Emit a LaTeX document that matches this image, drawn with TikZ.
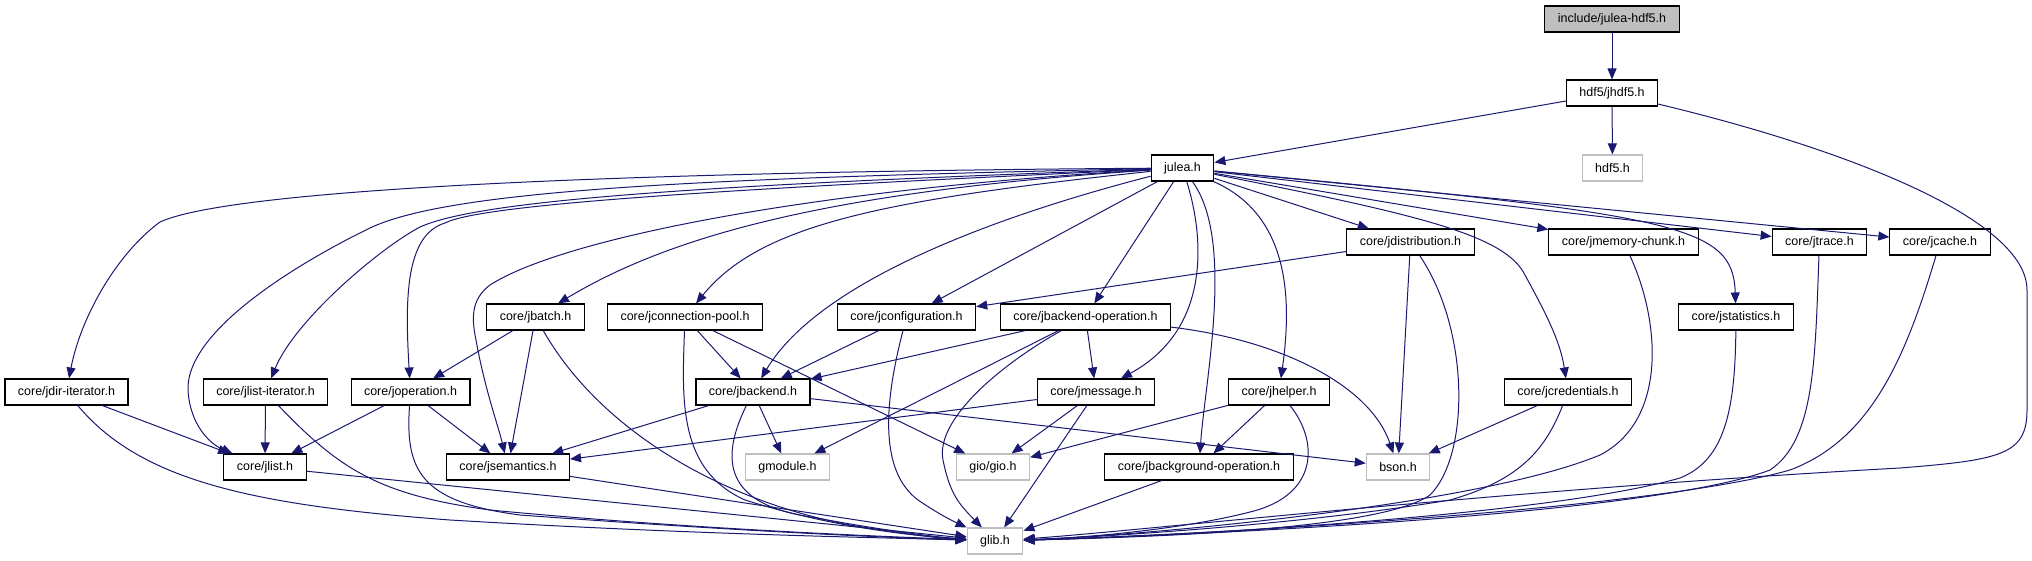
\documentclass[tikz,border=0pt]{standalone}
\usepackage{fontspec}
\setmainfont{Liberation Sans}
\usetikzlibrary{arrows.meta}
\definecolor{midblue}{RGB}{25,25,112}
\definecolor{boxgray}{RGB}{191,191,191}
\begin{document}
\begin{tikzpicture}[x=1pt, y=-1pt, every node/.style={font=\fontsize{12.47}{15}\selectfont},
  f/.style={draw, line width=1.1pt, fill=white, inner xsep=13pt, inner ysep=0pt, minimum height=26pt},
  ext/.style={f, draw=boxgray},
  dep/.style={draw=midblue, line width=1pt, -{Triangle[length=11pt,width=9pt]}}]
\useasboundingbox (0,0) rectangle (2032,560);
% top: file and hdf5 header
\node[f, fill=boxgray] (root) at (1612,19) {include/julea-hdf5.h};
\node[f] (jhdf5) at (1612,93) {hdf5/jhdf5.h};
\node[f] (julea) at (1182.5,168) {julea.h};
\node[ext] (hdf5) at (1612.5,168) {hdf5.h};
% level 3
\node[f] (jdistribution) at (1410.5,242) {core/jdistribution.h};
\node[f] (jmemchunk) at (1623.5,242) {core/jmemory-chunk.h};
\node[f] (jtrace) at (1819.5,242) {core/jtrace.h};
\node[f] (jcache) at (1940,242) {core/jcache.h};
% level 4
\node[f] (jbatch) at (535.5,317) {core/jbatch.h};
\node[f] (jconnpool) at (685,317) {core/jconnection-pool.h};
\node[f] (jconfig) at (906.5,317) {core/jconfiguration.h};
\node[f] (jbackendop) at (1085.5,317) {core/jbackend-operation.h};
\node[f] (jstatistics) at (1736,317) {core/jstatistics.h};
% level 5
\node[f] (jdiriter) at (66.5,392) {core/jdir-iterator.h};
\node[f] (jlistiter) at (265.5,392) {core/jlist-iterator.h};
\node[f] (joperation) at (410.5,392) {core/joperation.h};
\node[f] (jbackend) at (753,392) {core/jbackend.h};
\node[f] (jmessage) at (1096,392) {core/jmessage.h};
\node[f] (jhelper) at (1279,392) {core/jhelper.h};
\node[f] (jcredentials) at (1568,392) {core/jcredentials.h};
% level 6
\node[f] (jlist) at (265,467) {core/jlist.h};
\node[f] (jsemantics) at (508,467) {core/jsemantics.h};
\node[ext] (gmodule) at (787.5,467) {gmodule.h};
\node[ext] (gio) at (993,467) {gio/gio.h};
\node[f] (jbackgroundop) at (1199,467) {core/jbackground-operation.h};
\node[ext] (bson) at (1398,467) {bson.h};
% bottom
\node[ext] (glib) at (995,541) {glib.h};
% edges from the top
\draw[dep] (root)--(jhdf5); \draw[dep] (jhdf5)--(julea); \draw[dep] (jhdf5)--(hdf5);
\draw[dep] (jhdf5) .. controls (1850,150) and (2027,220) .. (2027,290) -- (2027,410) .. controls (2027,455) and (2000,460) .. (1900,468) .. controls (1500,490) and (1150,530) .. (glib);
% edges from julea.h, left side
\draw[dep] (julea) .. controls (600,172) and (230,190) .. (160,222) .. controls (115,255) and (80,320) .. (jdiriter);
\draw[dep] (julea) .. controls (700,178) and (450,190) .. (370,228) .. controls (300,262) and (186,330) .. (188,390) .. controls (190,425) and (210,444) .. (jlist);
\draw[dep] (julea) .. controls (700,185) and (480,200) .. (420,227) .. controls (380,248) and (295,320) .. (jlistiter);
\draw[dep] (julea) .. controls (700,190) and (480,205) .. (445,223) .. controls (405,235) and (405,300) .. (joperation);
\draw[dep] (julea) .. controls (800,190) and (560,240) .. (490,285) .. controls (470,300) and (472,320) .. (476,340) .. controls (485,390) and (498,425) .. (jsemantics);
\draw[dep] (julea) .. controls (850,190) and (680,230) .. (jbatch);
\draw[dep] (julea) .. controls (880,200) and (760,225) .. (jconnpool);
\draw[dep] (julea) .. controls (1000,215) and (820,280) .. (jbackend);
\draw[dep] (julea)--(jconfig); \draw[dep] (julea)--(jbackendop);
% edges from julea.h, right side
\draw[dep] (julea) .. controls (1205,240) and (1210,330) .. (jmessage);
\draw[dep] (julea) .. controls (1235,240) and (1205,380) .. (jbackgroundop);
\draw[dep] (julea) .. controls (1290,215) and (1292,300) .. (jhelper);
\draw[dep] (julea)--(jdistribution); \draw[dep] (julea)--(jmemchunk); \draw[dep] (julea)--(jtrace); \draw[dep] (julea)--(jcache);
\draw[dep] (julea) .. controls (1420,215) and (1505,235) .. (1525,275) .. controls (1545,312) and (1560,340) .. (jcredentials);
\draw[dep] (julea) .. controls (1680,215) and (1733,225) .. (jstatistics);
% level 3 edges
\draw[dep] (jdistribution)--(jconfig); \draw[dep] (jdistribution)--(bson);
\draw[dep] (jdistribution) .. controls (1470,330) and (1470,455) .. (1430,495) .. controls (1380,530) and (1150,537) .. (glib);
\draw[dep] (jmemchunk) .. controls (1660,320) and (1668,420) .. (1600,455) .. controls (1480,505) and (1150,535) .. (glib);
\draw[dep] (jtrace) .. controls (1815,360) and (1815,440) .. (1770,470) .. controls (1650,515) and (1200,535) .. (glib);
\draw[dep] (jcache) .. controls (1905,360) and (1870,440) .. (1790,470) .. controls (1650,510) and (1200,535) .. (glib);
% level 4 edges
\draw[dep] (jstatistics) .. controls (1735,410) and (1725,460) .. (1680,478) .. controls (1550,515) and (1200,535) .. (glib);
\draw[dep] (jbackendop)--(jbackend); \draw[dep] (jbackendop)--(jmessage); \draw[dep] (jbackendop)--(gmodule);
\draw[dep] (jbackendop) .. controls (1280,340) and (1370,385) .. (bson);
\draw[dep] (jbackendop) .. controls (1000,365) and (935,420) .. (943,460) .. controls (950,495) and (960,505) .. (glib);
\draw[dep] (jconfig)--(jbackend);
\draw[dep] (jconfig) .. controls (885,400) and (878,470) .. (918,500) .. controls (940,515) and (955,522) .. (glib);
\draw[dep] (jconnpool)--(jbackend); \draw[dep] (jconnpool)--(gio);
\draw[dep] (jconnpool) .. controls (682,400) and (678,470) .. (745,500) .. controls (840,530) and (930,537) .. (glib);
\draw[dep] (jbatch)--(joperation); \draw[dep] (jbatch)--(jsemantics);
\draw[dep] (jbatch) .. controls (600,430) and (720,500) .. (850,525) .. controls (900,533) and (935,538) .. (glib);
% level 5 edges
\draw[dep] (jcredentials)--(bson);
\draw[dep] (jcredentials) .. controls (1545,450) and (1520,480) .. (1450,500) .. controls (1300,525) and (1100,537) .. (glib);
\draw[dep] (jhelper)--(gio); \draw[dep] (jhelper)--(jbackgroundop);
\draw[dep] (jhelper) .. controls (1318,440) and (1320,495) .. (1250,512) .. controls (1180,530) and (1080,538) .. (glib);
\draw[dep] (jmessage)--(jsemantics); \draw[dep] (jmessage)--(gio); \draw[dep] (jmessage)--(glib);
\draw[dep] (jbackend)--(jsemantics); \draw[dep] (jbackend)--(gmodule); \draw[dep] (jbackend)--(bson);
\draw[dep] (jbackend) .. controls (722,455) and (722,500) .. (800,515) .. controls (880,530) and (935,537) .. (glib);
\draw[dep] (joperation)--(jlist); \draw[dep] (joperation)--(jsemantics);
\draw[dep] (joperation) .. controls (405,470) and (420,502) .. (520,515) .. controls (750,532) and (900,538) .. (glib);
\draw[dep] (jlistiter)--(jlist);
\draw[dep] (jlistiter) .. controls (340,470) and (380,495) .. (490,510) .. controls (700,530) and (900,537) .. (glib);
\draw[dep] (jdiriter)--(jlist);
\draw[dep] (jdiriter) .. controls (140,480) and (250,505) .. (450,520) .. controls (700,535) and (900,538) .. (glib);
% level 6 edges
\draw[dep] (jlist)--(glib); \draw[dep] (jsemantics)--(glib); \draw[dep] (jbackgroundop)--(glib);
\end{tikzpicture}
\end{document}
